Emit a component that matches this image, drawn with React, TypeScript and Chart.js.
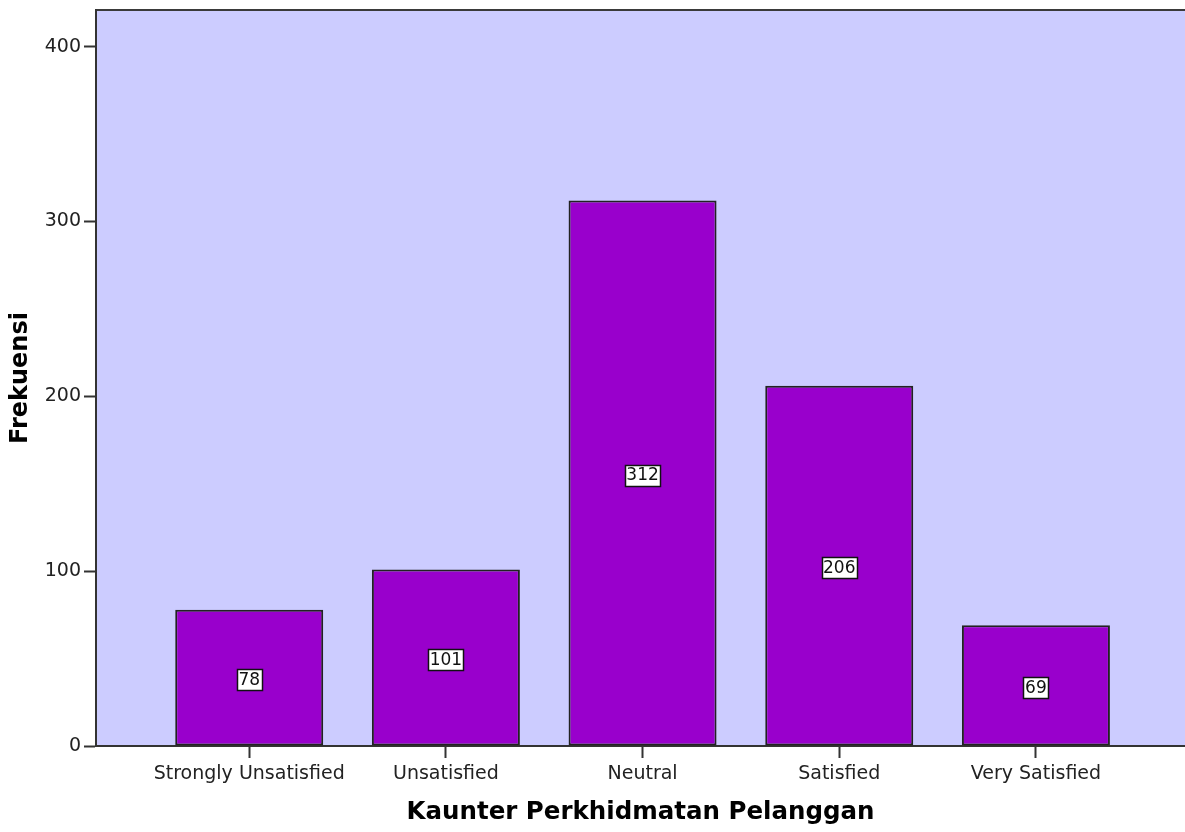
import React, { useEffect, useRef } from "react";
import { Chart, registerables } from "chart.js";

Chart.register(...registerables);

const categories = ["Strongly Unsatisfied", "Unsatisfied", "Neutral", "Satisfied", "Very Satisfied"];
const frequencies = [78, 101, 312, 206, 69];
const yTicks = [0, 100, 200, 300, 400];
const xTitle = "Kaunter Perkhidmatan Pelanggan";
const yTitle = "Frekuensi";

const FONT = "'DejaVu Sans', 'Noto Sans', sans-serif";

export default function App() {
  const ref = useRef<HTMLCanvasElement>(null);

  useEffect(() => {
    document.body.style.margin = "0";
    if (!ref.current) return;

    const bgPlugin = {
      id: "plotBg",
      beforeDraw(chart: any) {
        const { ctx, chartArea: a } = chart;
        ctx.save();
        ctx.fillStyle = "#CCCCFF";
        ctx.fillRect(a.left, a.top, a.right - a.left, a.bottom - a.top);
        ctx.strokeStyle = "#3a3a3a";
        ctx.lineWidth = 2;
        ctx.beginPath();
        ctx.moveTo(a.left, a.top);
        ctx.lineTo(a.right, a.top);
        ctx.stroke();
        ctx.restore();
      },
    };

    const labelPlugin = {
      id: "barLabels",
      afterDatasetsDraw(chart: any) {
        const ctx = chart.ctx;
        const meta = chart.getDatasetMeta(0);
        ctx.save();
        ctx.font = `17px ${FONT}`;
        ctx.textAlign = "center";
        ctx.textBaseline = "middle";
        meta.data.forEach((el: any, i: number) => {
          const p = el.getProps(["x", "y", "base"], true);
          const cx = p.x;
          const cy = (p.y + p.base) / 2 + 2;
          const text = String(frequencies[i]);
          const w = Math.round(ctx.measureText(text).width + 3);
          const h = 21;
          const x0 = Math.round(cx - w / 2) + 0.5;
          const y0 = Math.round(cy - h / 2) + 0.5;
          ctx.fillStyle = "#ffffff";
          ctx.fillRect(x0, y0, w, h);
          ctx.strokeStyle = "#111111";
          ctx.lineWidth = 1.5;
          ctx.strokeRect(x0, y0, w, h);
          ctx.fillStyle = "#111111";
          ctx.fillText(text, cx, cy + 1);
        });
        ctx.restore();
      },
    };

    const chart = new Chart(ref.current, {
      type: "bar",
      data: {
        datasets: [
          {
            data: categories.map((_, i) => ({ x: i, y: frequencies[i] })),
            backgroundColor: "#9900CC",
            borderColor: "#222222",
            borderWidth: 2,
            borderSkipped: false,
            barPercentage: 0.7525,
            categoryPercentage: 1,
          },
        ],
      },
      options: {
        animation: false,
        responsive: true,
        maintainAspectRatio: false,
        layout: { padding: { top: 10, left: 0, right: 0, bottom: 0 } },
        plugins: {
          legend: { display: false },
          tooltip: { enabled: false },
        },
        scales: {
          x: {
            type: "linear",
            min: -0.779,
            max: 4.758,
            offset: false,
            afterBuildTicks: (s: any) => {
              s.ticks = categories.map((_, i) => ({ value: i }));
            },
            afterFit: (s: any) => {
              s.height = 86;
              s.paddingLeft = 0;
              s.paddingRight = 0;
            },
            ticks: {
              stepSize: 1,
              autoSkip: false,
              maxRotation: 0,
              minRotation: 0,
              padding: 5,
              color: "#222222",
              font: { family: FONT, size: 19 },
              callback: (v: any) => categories[v] ?? "",
            },
            grid: {
              offset: false,
              drawOnChartArea: false,
              drawTicks: true,
              tickLength: 12,
              tickWidth: 2,
              color: "#333333",
            },
            border: { display: true, color: "#333333", width: 2 },
            title: {
              display: true,
              text: xTitle,
              color: "#000000",
              font: { family: FONT, size: 24.5, weight: "bold" },
              padding: { top: 0, bottom: 5 },
            },
          },
          y: {
            type: "linear",
            min: 0,
            max: 421,
            afterBuildTicks: (s: any) => {
              s.ticks = yTicks.map((v) => ({ value: v }));
            },
            afterFit: (s: any) => {
              s.width = 96;
              s.paddingTop = 0;
              s.paddingBottom = 0;
            },
            ticks: {
              padding: 3,
              color: "#222222",
              font: { family: FONT, size: 19 },
            },
            grid: {
              drawOnChartArea: false,
              drawTicks: true,
              tickLength: 12,
              tickWidth: 2,
              color: "#333333",
            },
            border: { display: true, color: "#333333", width: 2 },
            title: {
              display: true,
              text: yTitle,
              color: "#000000",
              font: { family: FONT, size: 24, weight: "bold" },
              padding: { top: 6, bottom: 0 },
            },
          },
        },
      },
      plugins: [bgPlugin, labelPlugin],
    } as any);

    return () => chart.destroy();
  }, []);

  return (
    <div style={{ position: "absolute", left: 0, top: 0, width: 1185, height: 832 }}>
      <canvas ref={ref} />
    </div>
  );
}
